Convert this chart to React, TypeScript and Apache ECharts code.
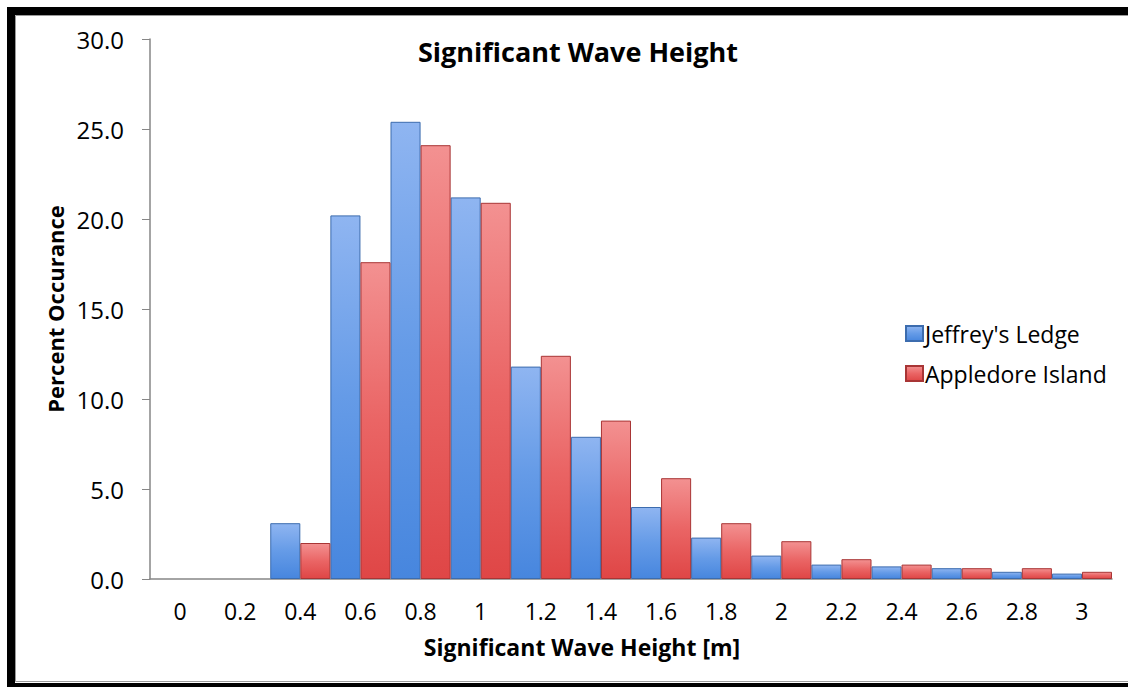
import React, { useEffect, useRef } from "react";
import * as echarts from "echarts";

// Wave height bins [m]
const heightBins = ["0", "0.2", "0.4", "0.6", "0.8", "1", "1.2", "1.4", "1.6", "1.8", "2", "2.2", "2.4", "2.6", "2.8", "3"];

// Percent occurance per bin
const jeffreysLedge = [0, 0, 3.1, 20.2, 25.4, 21.2, 11.8, 7.9, 4.0, 2.3, 1.3, 0.8, 0.7, 0.6, 0.4, 0.3];
const appledoreIsland = [0, 0, 2.0, 17.6, 24.1, 20.9, 12.4, 8.8, 5.6, 3.1, 2.1, 1.1, 0.8, 0.6, 0.6, 0.4];

const yTicks = { min: 0, max: 30, interval: 5 };

const FONT = "'Open Sans', 'Noto Sans', sans-serif";

const barFill = (top: string, mid: string, bottom: string) =>
  new echarts.graphic.LinearGradient(0, 0, 0, 1, [
    { offset: 0, color: top },
    { offset: 0.5, color: mid },
    { offset: 1, color: bottom },
  ]);

// empty bins get no bar (and no outline) at all
const asBars = (values: number[]) => values.map((v) => (v === 0 ? null : v));

export default function App() {
  const ref = useRef<HTMLDivElement>(null);

  useEffect(() => {
    if (!ref.current) return;
    const chart = echarts.init(ref.current, undefined, { renderer: "svg" });
    chart.setOption({
      animation: false,
      backgroundColor: "#ffffff",
      title: {
        text: "Significant Wave Height",
        left: 573,
        top: 33,
        textAlign: "center",
        textStyle: { fontFamily: FONT, fontWeight: "bold", fontSize: 27, color: "#000" },
      },
      grid: { left: 150, right: 16, top: 39, bottom: 108, containLabel: false },
      legend: {
        orient: "vertical",
        left: 900,
        top: 317,
        icon: "rect",
        itemWidth: 17,
        itemHeight: 15,
        itemGap: 17,
        textStyle: { fontFamily: FONT, fontSize: 23, color: "#000", padding: [0, 0, 0, -3] },
        data: ["Jeffrey's Ledge", "Appledore Island"],
      },
      xAxis: {
        type: "category",
        data: heightBins,
        name: "Significant Wave Height [m]",
        nameLocation: "middle",
        nameGap: 56,
        nameTextStyle: {
          fontFamily: FONT,
          fontWeight: "bold",
          fontSize: 23,
          color: "#000",
          padding: [0, 98, 0, 0],
        },
        axisLine: { lineStyle: { color: "#868686", width: 1.5 } },
        axisTick: { show: false },
        axisLabel: { fontFamily: FONT, fontSize: 23, color: "#000", margin: 20 },
        splitLine: { show: false },
      },
      yAxis: {
        type: "value",
        min: yTicks.min,
        max: yTicks.max,
        interval: yTicks.interval,
        name: "Percent Occurance",
        nameLocation: "middle",
        nameGap: 79,
        nameRotate: 90,
        nameTextStyle: { fontFamily: FONT, fontWeight: "bold", fontSize: 22, color: "#000" },
        axisLine: { show: true, lineStyle: { color: "#868686", width: 1.5 } },
        axisTick: { show: true, inside: false, length: 8, lineStyle: { color: "#868686" } },
        axisLabel: {
          fontFamily: FONT,
          fontSize: 24,
          color: "#000",
          margin: 26,
          formatter: (v: number) => v.toFixed(1),
        },
        splitLine: { show: false },
      },
      series: [
        {
          name: "Jeffrey's Ledge",
          type: "bar",
          data: asBars(jeffreysLedge),
          barGap: "0%",
          barCategoryGap: "0%",
          itemStyle: {
            color: barFill("#8fb5f1", "#659be7", "#4786de"),
            borderColor: "#3c6cae",
            borderWidth: 1,
          },
        },
        {
          name: "Appledore Island",
          type: "bar",
          data: asBars(appledoreIsland),
          barGap: "0%",
          barCategoryGap: "0%",
          itemStyle: {
            color: barFill("#f39191", "#ea6565", "#df4646"),
            borderColor: "#a83535",
            borderWidth: 1,
          },
        },
      ],
      graphic: [
        {
          type: "rect",
          silent: true,
          shape: { x: 11, y: 11, width: 1140, height: 676 },
          style: { fill: "none", stroke: "#000", lineWidth: 8 },
        },
        {
          type: "rect",
          silent: true,
          shape: { x: 15.5, y: 15.5, width: 1140, height: 666 },
          style: { fill: "none", stroke: "#9a9a9a", lineWidth: 1 },
        },
      ],
    });
    return () => chart.dispose();
  }, []);

  return (
    <div
      ref={ref}
      style={{ position: "fixed", left: 0, top: 0, width: 1128, height: 687 }}
    />
  );
}
